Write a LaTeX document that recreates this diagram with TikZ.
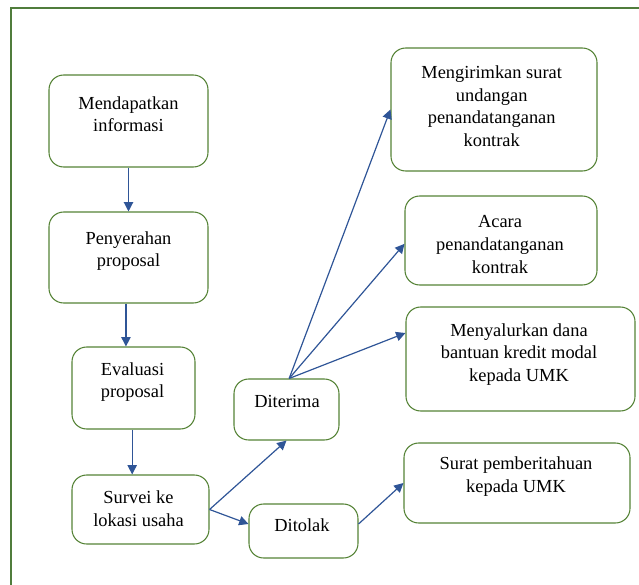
\documentclass[tikz,border=0pt]{standalone}
\usepackage{fontspec}
\setmainfont{DejaVu Serif}
\newfontfamily\tnr{Liberation Serif}
\usetikzlibrary{arrows.meta,fit}
\definecolor{boxgreen}{RGB}{84,130,53}
\definecolor{framegreen}{RGB}{80,125,60}
\definecolor{arrowblue}{RGB}{47,85,151}
\begin{document}
\begin{tikzpicture}[x=0.75pt,y=-0.75pt,
  box/.style={draw=boxgreen,line width=0.8pt,rounded corners=11pt,inner sep=0pt},
  lbl/.style={align=center,inner sep=0pt,font=\tnr\fontsize{13.8pt}{16.9pt}\selectfont},
  arr/.style={draw=arrowblue,line width=0.9pt,-{Triangle[length=7pt,width=7pt]}}]
\useasboundingbox (0,0) rectangle (639,585);
% outer frame (cut at the right and bottom edges)
\draw[framegreen,line width=1pt] (11,600) -- (11,8) -- (650,8);
% boxes
\node[box,fit={(49,75) (208,167)}] (b1) {};
\node[box,fit={(49,212) (208,303)}] (b2) {};
\node[box,fit={(72,347) (195,429)}] (b3) {};
\node[box,fit={(72,475) (209,544)}] (b4) {};
\node[box,fit={(234,379) (339,440)}] (dit) {};
\node[box,fit={(249,504) (358,558)}] (tol) {};
\node[box,fit={(391,48) (597,171)}] (m1) {};
\node[box,fit={(405,196) (597,285)}] (m2) {};
\node[box,fit={(406,307) (635,411)}] (m3) {};
\node[box,fit={(404,443) (630,523)}] (m4) {};
% texts
\node[lbl] (t1) at (128.5,114) {Mendapatkan\\informasi};
\node[lbl] (t2) at (128.5,251) {Penyerahan\\proposal};
\node[lbl] (t3) at (132.5,382) {Evaluasi\\proposal};
\node[lbl] (t4) at (138.5,508.5) {Survei ke\\lokasi usaha};
\node[lbl] (t5) at (287,401) {Diterima};
\node[lbl] (t6) at (302,525) {Ditolak};
\node[lbl] (t7) at (491.7,106) {Mengirimkan surat\\undangan\\penandatanganan\\kontrak};
\node[lbl] (t8) at (500,244.5) {Acara\\penandatanganan\\kontrak};
\node[lbl] (t9) at (519,354.5) {Menyalurkan dana\\bantuan kredit modal\\kepada UMK};
\node[lbl] (t10) at (516,476.5) {Surat pemberitahuan\\kepada UMK};
% connectors
\draw[arr] (b1.south) -- (b2.north);
\draw[arr] ([xshift=-1.9pt]b2.south) -- ([xshift=-1.9pt]b2.south |- b3.north);
\draw[arr] ([xshift=-1pt]b3.south) -- ([xshift=-1pt]b3.south |- b4.north);
\draw[arr] (b4.east) -- (dit.south);
\draw[arr] (b4.east) -- ([yshift=5.25pt]tol.west);
\draw[arr] ([yshift=5.25pt]tol.east) -- (m4.west);
\draw[arr] ([xshift=2pt]dit.north) -- (m1.west);
\draw[arr] ([xshift=2pt]dit.north) -- ([yshift=-2.5pt]m2.west);
\draw[arr] ([xshift=2pt]dit.north) -- ([yshift=19.5pt]m3.west);
\end{tikzpicture}
\end{document}
